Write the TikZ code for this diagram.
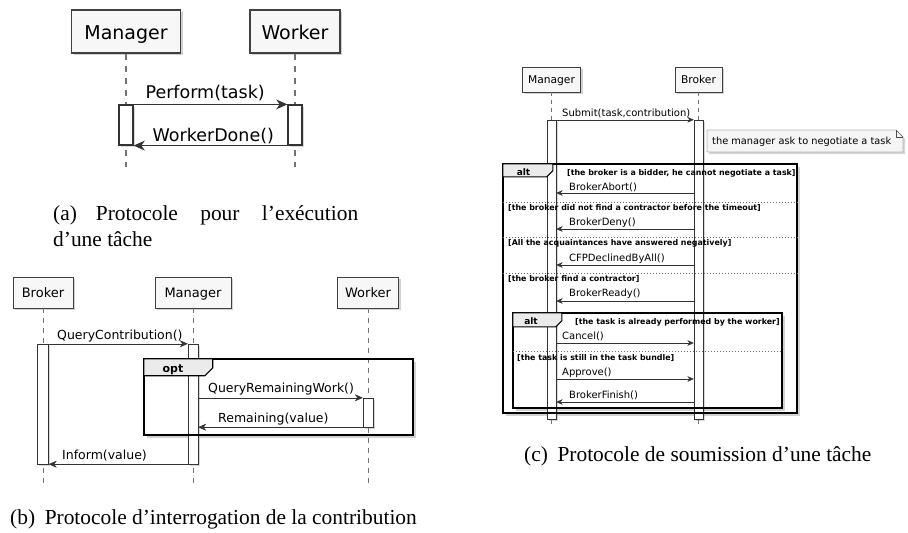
\documentclass[tikz,border=0pt]{standalone}
\usepackage{fontspec}
\setmainfont{Liberation Serif}
\newfontfamily\umlfont{DejaVu Sans}
\usetikzlibrary{arrows.meta,shadows}

\tikzset{
  part/.style={draw=black!75,fill=black!3,inner sep=0pt,text depth=0pt,
    drop shadow={shadow xshift=2pt,shadow yshift=-2pt,opacity=.35}},
  life/.style={draw=black!55,dash pattern=on 5pt off 5pt},
  act/.style={draw=black!80,fill=white,inner sep=0pt,
    drop shadow={shadow xshift=1.5pt,shadow yshift=-1.5pt,opacity=.3}},
  msg/.style={draw=black!80,-{Stealth[length=8pt,width=7pt,inset=2.5pt,scale=#1]}},
  msg/.default=1,
  lbl/.style={anchor=base west,inner sep=0pt},
  grd/.style={anchor=base west,inner sep=0pt},
  framebox/.style={fill=white,inner sep=0pt,
    drop shadow={shadow xshift=3pt,shadow yshift=-3pt,opacity=.35}},
  framtab/.style={draw=black,fill=black!8},
  altsep/.style={draw=black!60,line width=.8pt,dash pattern=on 1.5pt off 1.5pt},
  capt/.style={anchor=base west,inner sep=0pt,font=\fontsize{21.4}{26.7}\selectfont}
}

\begin{document}
\begin{tikzpicture}[x=1pt,y=-1pt]
\fill[white] (0,0) rectangle (908,533);
\useasboundingbox (0,0) rectangle (908,533);

% (a)
\begin{scope}[line width=1.2pt,life/.append style={dash pattern=on 6pt off 6pt},
  part/.append style={text height=15.2pt,minimum height=43pt,font=\umlfont\fontsize{19}{22}\selectfont},
  lbl/.append style={font=\umlfont\fontsize{17.5}{21}\selectfont}]
\node[part,minimum width=109pt] (Ma) at (126,31.5) {Manager};
\node[part,minimum width=90pt] (Wa) at (295,31.5) {Worker};
\coordinate (Ea) at (0,167);
\draw[life] (Ma.south) -- (Ma.south |- Ea);
\draw[life] (Wa.south) -- (Wa.south |- Ea);
\node[act,minimum width=14pt,minimum height=40pt] (aMa) at (126,125) {};
\node[act,minimum width=14pt,minimum height=40pt] (aWa) at (295,125) {};
\draw[msg=1.4] (aMa.north east) -- (aWa.north west);
\draw[msg=1.4] (aWa.south west) -- (aMa.south east);
\node[lbl] (perf) at (145,98.5) {Perform(task)};
\node[lbl] (wdone) at (152,141.5) {WorkerDone()};
\end{scope}
\node[capt] (capa) at (53,220) {\makebox[305pt][s]{(a)\hspace{19pt}Protocole pour l’exécution}};
\node[capt] (capa2) at (53,246.7) {d’une tâche};

% (b)
\begin{scope}[part/.append style={text height=10.4pt,minimum height=31pt,font=\umlfont\fontsize{13}{15}\selectfont},
  lbl/.append style={font=\umlfont\fontsize{12.5}{15}\selectfont}]
\node[part,minimum width=60pt] (Bb) at (43,292.5) {Broker};
\node[part,minimum width=76pt] (Mb) at (193,292.5) {Manager};
\node[part,minimum width=61pt] (Wb) at (368,292.5) {Worker};
\node[framebox,minimum width=269pt,minimum height=76pt] (Fb) at (278.5,397) {};
\coordinate (Eb) at (0,483);
\draw[life] (Bb.south) -- (Bb.south |- Eb);
\draw[life] (Mb.south) -- (Mb.south |- Eb);
\draw[life] (Wb.south) -- (Wb.south |- Eb);
\node[act,minimum width=11pt,minimum height=120pt] (aBb) at (43,404) {};
\node[act,minimum width=10pt,minimum height=120pt] (aMb) at (193,404) {};
\node[act,minimum width=10pt,minimum height=29pt] (aWb) at (368,412.5) {};
\draw[line width=2pt] (Fb.north west) rectangle (Fb.south east);
\draw[framtab,line width=1.2pt] (Fb.north west) -- ++(69,0) -- ++(0,9) -- ++(-8,8) -- ++(-61,0) -- cycle;
\node[anchor=base,inner sep=0pt,font=\umlfont\bfseries\fontsize{11}{13}\selectfont] (optb) at (173,372) {opt};
\draw[msg] (aBb.north east) -- (aMb.north west);
\draw[msg] (aMb.east |- aWb.north) -- (aWb.north west);
\draw[msg] (aWb.south west) -- (aMb.east |- aWb.south);
\draw[msg] (aMb.south west) -- (aBb.south east);
\node[lbl] (qc) at (57,339.5) {QueryContribution()};
\node[lbl] (qrw) at (208,392.5) {QueryRemainingWork()};
\node[lbl] (rem) at (218,422.5) {Remaining(value)};
\node[lbl] (inf) at (62,459.5) {Inform(value)};
\end{scope}
\node[capt] (capb) at (10,524.5) {(b)\hspace{.45em}Protocole d’interrogation de la contribution};

% (c)
\begin{scope}[life/.append style={dash pattern=on 4pt off 4pt},
  part/.append style={text height=8.6pt,minimum height=25pt,font=\umlfont\fontsize{10.7}{12}\selectfont},
  lbl/.append style={font=\umlfont\fontsize{10}{12}\selectfont},
  grd/.append style={font=\umlfont\bfseries\fontsize{7.9}{9}\selectfont}]
\node[part,minimum width=58pt] (Mc) at (551.5,79.5) {Manager};
\node[part,minimum width=47pt] (Bc) at (698.5,79.5) {Broker};
\node[framebox,minimum width=294pt,minimum height=249pt] (Fc) at (650,288.5) {};
\node[framebox,minimum width=269pt,minimum height=95pt] (Gc) at (647.5,360.5) {};
\coordinate (Ec) at (0,427);
\draw[life] (Mc.south) -- (Mc.south |- Ec);
\draw[life] (Bc.south) -- (Bc.south |- Ec);
\node[act,minimum width=9pt,minimum height=299pt] (aMc) at (551.5,269.5) {};
\node[act,minimum width=9pt,minimum height=299pt] (aBc) at (698.5,269.5) {};
\draw[line width=1.8pt] (Fc.north west) rectangle (Fc.south east);
\draw[framtab,line width=1pt] (Fc.north west) -- ++(50,0) -- ++(0,7) -- ++(-6,6) -- ++(-44,0) -- cycle;
\draw[line width=1.6pt] (Gc.north west) rectangle (Gc.south east);
\draw[framtab,line width=1pt] (Gc.north west) -- ++(49,0) -- ++(0,8) -- ++(-6,6) -- ++(-43,0) -- cycle;
\node[anchor=base,inner sep=0pt,font=\umlfont\bfseries\fontsize{9}{11}\selectfont] (alt1) at (523.5,175) {alt};
\node[anchor=base,inner sep=0pt,font=\umlfont\bfseries\fontsize{9}{11}\selectfont] (alt2) at (531,324) {alt};
%separators
\coordinate (s1) at (0,202);
\coordinate (s2) at (0,237);
\coordinate (s3) at (0,273);
\coordinate (s4) at (0,351);
\draw[altsep] (Fc.west |- s1) -- (Fc.east |- s1);
\draw[altsep] (Fc.west |- s2) -- (Fc.east |- s2);
\draw[altsep] (Fc.west |- s3) -- (Fc.east |- s3);
\draw[altsep] (Gc.west |- s4) -- (Gc.east |- s4);
\node[grd] (g1) at (567,175) {[the broker is a bidder, he cannot negotiate a task]};
\node[grd] (g2) at (508,210) {[the broker did not find a contractor before the timeout]};
\node[grd] (g3) at (508,245) {[All the acquaintances have answered negatively]};
\node[grd] (g4) at (508,281) {[the broker find a contractor]};
\node[grd] (g5) at (575,324) {[the task is already performed by the worker]};
\node[grd] (g6) at (517,360) {[the task is still in the task bundle]};
%messages
\coordinate (r1) at (0,193);
\coordinate (r2) at (0,229);
\coordinate (r3) at (0,265);
\coordinate (r4) at (0,301);
\coordinate (r5) at (0,343);
\coordinate (r6) at (0,379);
\coordinate (r7) at (0,402);
\draw[msg=.8] (aMc.north east) -- (aBc.north west);
\draw[msg=.8] (aBc.west |- r1) -- (aMc.east |- r1);
\draw[msg=.8] (aBc.west |- r2) -- (aMc.east |- r2);
\draw[msg=.8] (aBc.west |- r3) -- (aMc.east |- r3);
\draw[msg=.8] (aBc.west |- r4) -- (aMc.east |- r4);
\draw[msg=.8] (aMc.east |- r5) -- (aBc.west |- r5);
\draw[msg=.8] (aMc.east |- r6) -- (aBc.west |- r6);
\draw[msg=.8] (aBc.west |- r7) -- (aMc.east |- r7);
\node[lbl] (sub) at (562,116.6) {Submit(task,contribution)};
\node[lbl] (abort) at (569,190.5) {BrokerAbort()};
\node[lbl] (deny) at (569,225.5) {BrokerDeny()};
\node[lbl] (cfp) at (569,261.5) {CFPDeclinedByAll()};
\node[lbl] (ready) at (569,296.5) {BrokerReady()};
\node[lbl] (canc) at (562,339.5) {Cancel()};
\node[lbl] (appr) at (562,375.5) {Approve()};
\node[lbl] (fin) at (569,398.5) {BrokerFinish()};
%note
\draw[fill=black!4,draw=black!70,drop shadow={shadow xshift=2pt,shadow yshift=-2pt,opacity=.3}]
  (707,130) -- (896,130) -- (903,137) -- (903,152) -- (707,152) -- cycle;
\draw[black!70] (896,130) -- (896,137) -- (903,137);
\node[lbl,font=\umlfont\fontsize{9.8}{12}\selectfont] (note) at (712,144.6) {the manager ask to negotiate a task};
\end{scope}
\node[capt] (capc) at (524,461) {(c)\hspace{.45em}Protocole de soumission d’une tâche};

\end{tikzpicture}
\end{document}
